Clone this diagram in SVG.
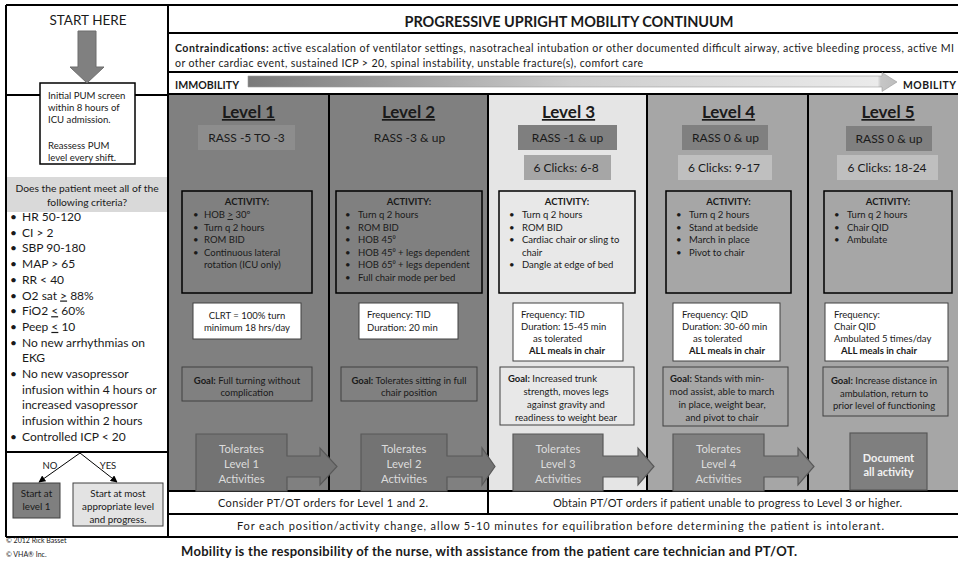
<svg xmlns="http://www.w3.org/2000/svg" width="958" height="561" viewBox="0 0 958 561">
<defs>
<style>
text{font-family:Lato,"Liberation Sans",sans-serif;fill:#1a1a1a}
.b{font-weight:bold}
.m{text-anchor:middle}
.h{font-size:17px;font-weight:bold;text-decoration:underline}
.r{font-size:12px}
.a{font-size:9.5px}
.l{font-size:12px}
.tl{font-size:11.3px;fill:#dcdcdc}
.u{text-decoration:underline}
.ln{stroke:#000;stroke-width:2;fill:none}
.act{stroke:#000;stroke-width:1.5}
.fq{fill:#fff;stroke:#404040;stroke-width:1}
.gl{stroke:#404040;stroke-width:1}
.tol{stroke:#595959;stroke-width:1.2}
.thin{stroke:#000;stroke-width:1;fill:none}
</style>
<linearGradient id="grad" gradientUnits="userSpaceOnUse" x1="248" y1="0" x2="897" y2="0">
<stop offset="0" stop-color="#7a7a7a"/>
<stop offset="0.5" stop-color="#cdcdcd"/>
<stop offset="0.97" stop-color="#ebebeb"/>
<stop offset="0.975" stop-color="#c6c6c6"/>
<stop offset="1" stop-color="#bdbdbd"/>
</linearGradient>
<marker id="ah" viewBox="0 0 10 10" refX="9" refY="5" markerWidth="7" markerHeight="7" orient="auto" markerUnits="userSpaceOnUse">
<path d="M0,0 L10,5 L0,10 Z" fill="#000"/>
</marker>
</defs>
<rect width="958" height="561" fill="#fff"/>

<!-- column backgrounds -->
<g id="backgrounds">
<rect x="168" y="94" width="161" height="397" fill="#808080"/>
<rect x="329" y="94" width="159" height="397" fill="#808080"/>
<rect x="488" y="94" width="159" height="397" fill="#e5e5e5"/>
<rect x="647" y="94" width="161" height="397" fill="#a6a6a6"/>
<rect x="808" y="94" width="152" height="397" fill="#a6a6a6"/>
</g>

<!-- frame lines -->
<g id="frame">
<path class="ln" d="M6,5 H960 M6,5 V537 M168,5 V537 M168,33 H960 M168,72 H960 M168,94 H960 M6,95 H168 M6,452 H168 M329,94 V491 M488,94 V514 M647,94 V491 M808,94 V491 M168,491 H960 M168,514 H960 M6,537 H960"/>
</g>

<!-- left column -->
<g id="start-here">
<text x="88" y="25" class="m" style="font-size:13.5px">START HERE</text>
</g>
<g id="pum-screen">
<rect x="40" y="83" width="95" height="81" fill="#fff" stroke="#000" stroke-width="1.5"/>
<text x="48" y="98.5" style="font-size:9.6px">Initial PUM screen</text>
<text x="48" y="111" style="font-size:9.6px">within 8 hours of</text>
<text x="48" y="123" style="font-size:9.6px">ICU admission.</text>
<text x="48" y="149" style="font-size:9.6px">Reassess PUM</text>
<text x="48" y="161" style="font-size:9.6px">level every shift.</text>
</g>
<g id="criteria">
<rect x="7" y="177" width="160" height="35" fill="#d9d9d9"/>
<text x="87" y="192" class="m" style="font-size:10.3px">Does the patient meet all of the</text>
<text x="87" y="206" class="m" style="font-size:10.3px">following criteria?</text>
<g>
<text x="10" y="221" class="l">•</text><text x="22" y="221" class="l">HR 50-120</text>
<text x="10" y="236.7" class="l">•</text><text x="22" y="236.7" class="l">CI &gt; 2</text>
<text x="10" y="252.4" class="l">•</text><text x="22" y="252.4" class="l">SBP 90-180</text>
<text x="10" y="268.1" class="l">•</text><text x="22" y="268.1" class="l">MAP &gt; 65</text>
<text x="10" y="283.8" class="l">•</text><text x="22" y="283.8" class="l">RR &lt; 40</text>
<text x="10" y="299.5" class="l">•</text><text x="22" y="299.5" class="l">O2 sat <tspan class="u">&gt;</tspan> 88%</text>
<text x="10" y="315.2" class="l">•</text><text x="22" y="315.2" class="l">FiO2 <tspan class="u">&lt;</tspan> 60%</text>
<text x="10" y="330.9" class="l">•</text><text x="22" y="330.9" class="l">Peep <tspan class="u">&lt;</tspan> 10</text>
<text x="10" y="346.6" class="l">•</text><text x="22" y="346.6" class="l">No new arrhythmias on</text>
<text x="22" y="362.3" class="l">EKG</text>
<text x="10" y="378" class="l">•</text><text x="22" y="378" class="l">No new vasopressor</text>
<text x="22" y="393.7" class="l">infusion within 4 hours or</text>
<text x="22" y="409.4" class="l">increased vasopressor</text>
<text x="22" y="425.1" class="l">infusion within 2 hours</text>
<text x="10" y="440.8" class="l">•</text><text x="22" y="440.8" class="l">Controlled ICP &lt; 20</text>
</g>
</g>
<g id="start-level1">
<rect x="13" y="483" width="47" height="35" fill="#7f7f7f" stroke="#404040" stroke-width="1"/>
<text x="36.5" y="497" class="m" style="font-size:9.8px">Start at</text>
<text x="36.5" y="510" class="m" style="font-size:9.8px">level 1</text>
</g>
<g id="start-appropriate">
<rect x="73" y="483" width="90" height="43" fill="#e3e3e3" stroke="#404040" stroke-width="1"/>
<text x="118" y="497" class="m" style="font-size:9.8px">Start at most</text>
<text x="118" y="510" class="m" style="font-size:9.8px">appropriate level</text>
<text x="118" y="523" class="m" style="font-size:9.8px">and progress.</text>
</g>
<g id="credits">
<text x="6" y="543" style="font-size:7px">© 2012 Rick Basset</text>
<text x="6" y="557" style="font-size:7px">© VHA® Inc.</text>
</g>

<!-- header -->
<g id="title">
<text x="569" y="26.5" class="m b" style="font-size:14.5px" textLength="329">PROGRESSIVE UPRIGHT MOBILITY CONTINUUM</text>
</g>
<g id="contraindications">
<text x="175" y="52" style="font-size:10.6px" textLength="779"><tspan class="b">Contraindications:</tspan> active escalation of ventilator settings, nasotracheal intubation or other documented difficult airway, active bleeding process, active MI</text>
<text x="175" y="67" style="font-size:10.6px" textLength="468">or other cardiac event, sustained ICP &gt; 20, spinal instability, unstable fracture(s), comfort care</text>
</g>
<g id="continuum">
<text x="175" y="89" class="b" style="font-size:10.6px" textLength="64">IMMOBILITY</text>
<path d="M248,76 H882 V72.5 L897,82 L882,91.5 V87 H248 Z" fill="url(#grad)" stroke="#9a9a9a" stroke-width="0.6"/>
<text x="903" y="89" class="b" style="font-size:10.4px" textLength="53">MOBILITY</text>
</g>

<!-- Level 1 -->
<g id="level1">
<text x="248.5" y="118" class="m h">Level 1</text>
<rect x="198" y="125" width="97" height="25" fill="#8d8d8d"/>
<text x="246.5" y="142" class="m r">RASS  -5 TO -3</text>
<rect x="182" y="191" width="130" height="102" fill="#808080" class="act"/>
<text x="247" y="205" class="m a b">ACTIVITY:</text>
<text class="a"><tspan x="193" y="218">•</tspan><tspan x="193" y="230.6">•</tspan><tspan x="193" y="243.2">•</tspan><tspan x="193" y="255.8">•</tspan></text>
<text x="204" y="218" class="a">HOB <tspan class="u">&gt;</tspan> 30º</text>
<text x="204" y="230.6" class="a">Turn q 2 hours</text>
<text x="204" y="243.2" class="a">ROM BID</text>
<text x="204" y="255.8" class="a">Continuous lateral</text>
<text x="204" y="268.4" class="a">rotation (ICU only)</text>
<rect x="193" y="303" width="108" height="36" class="fq"/>
<text x="247" y="319" class="m a">CLRT = 100% turn</text>
<text x="247" y="331" class="m a">minimum 18 hrs/day</text>
<rect x="182" y="367" width="130" height="34" fill="#808080" class="gl"/>
<text x="247" y="383.5" class="m a"><tspan class="b">Goal:</tspan> Full turning without</text>
<text x="247" y="395.5" class="m a">complication</text>
<path d="M196,434 H287 V456 H320 V448 L337,466.5 L320,485 V477 H287 V491 H196 Z" fill="#737373" class="tol"/>
<text x="241.5" y="452.5" class="m tl">Tolerates</text>
<text x="241.5" y="467.5" class="m tl">Level 1</text>
<text x="241.5" y="482.5" class="m tl">Activities</text>
</g>

<!-- Level 2 -->
<g id="level2">
<text x="408.5" y="118" class="m h">Level 2</text>
<text x="409.5" y="142" class="m r">RASS -3 &amp; up</text>
<rect x="336" y="191" width="146" height="102" fill="#808080" class="act"/>
<text x="409" y="205" class="m a b">ACTIVITY:</text>
<text class="a"><tspan x="345" y="218">•</tspan><tspan x="345" y="230.6">•</tspan><tspan x="345" y="243.2">•</tspan><tspan x="345" y="255.8">•</tspan><tspan x="345" y="268.4">•</tspan><tspan x="345" y="281">•</tspan></text>
<text x="358" y="218" class="a">Turn q 2 hours</text>
<text x="358" y="230.6" class="a">ROM BID</text>
<text x="358" y="243.2" class="a">HOB 45⁰</text>
<text x="358" y="255.8" class="a">HOB 45⁰ + legs  dependent</text>
<text x="358" y="268.4" class="a">HOB 65⁰ + legs dependent</text>
<text x="358" y="281" class="a">Full chair mode per bed</text>
<rect x="359" y="303" width="99" height="36" class="fq"/>
<text x="367" y="318" class="a">Frequency: TID</text>
<text x="367" y="330.5" class="a">Duration: 20 min</text>
<rect x="341" y="367" width="136" height="34" fill="#808080" class="gl"/>
<text x="409" y="383.5" class="m a"><tspan class="b">Goal:</tspan> Tolerates sitting in full</text>
<text x="409" y="395.5" class="m a">chair position</text>
<path d="M361,434 H447 V456 H482 V448 L495,466.5 L482,485 V477 H447 V491 H361 Z" fill="#737373" class="tol"/>
<text x="404" y="452.5" class="m tl">Tolerates</text>
<text x="404" y="467.5" class="m tl">Level 2</text>
<text x="404" y="482.5" class="m tl">Activities</text>
</g>

<!-- Level 3 -->
<g id="level3">
<text x="568.5" y="118" class="m h">Level 3</text>
<rect x="518" y="125" width="99" height="25" fill="#7f7f7f"/>
<text x="567.5" y="142" class="m r">RASS -1 &amp; up</text>
<rect x="524" y="155" width="87" height="25" fill="#a6a6a6"/>
<text x="566" y="172" class="m r">6 Clicks: 6-8</text>
<rect x="499" y="191" width="136" height="102" fill="#e8e8e8" class="act"/>
<text x="567" y="205" class="m a b">ACTIVITY:</text>
<text class="a"><tspan x="509" y="218">•</tspan><tspan x="509" y="230.6">•</tspan><tspan x="509" y="243.2">•</tspan><tspan x="509" y="268.4">•</tspan></text>
<text x="522" y="218" class="a">Turn q 2 hours</text>
<text x="522" y="230.6" class="a">ROM BID</text>
<text x="522" y="243.2" class="a">Cardiac chair or sling to</text>
<text x="522" y="255.8" class="a">chair</text>
<text x="522" y="268.4" class="a">Dangle at edge of bed</text>
<rect x="513" y="303" width="110" height="58" class="fq"/>
<text x="521" y="318" class="a">Frequency: TID</text>
<text x="521" y="330" class="a">Duration: 15-45 min</text>
<text x="533" y="342" class="a">as tolerated</text>
<text x="529" y="354" class="a b">ALL meals in chair</text>
<rect x="500" y="367" width="134" height="58" fill="#e8e8e8" class="gl"/>
<text x="508" y="382" class="a"><tspan class="b">Goal:</tspan> Increased trunk</text>
<text x="566" y="395" class="m a">strength, moves legs</text>
<text x="566" y="408" class="m a">against gravity and</text>
<text x="566" y="421" class="m a">readiness to weight bear</text>
<path d="M513,434 H603 V456 H638 V448 L654,466.5 L638,485 V477 H603 V491 H513 Z" fill="#7f7f7f" class="tol"/>
<text x="558" y="452.5" class="m tl">Tolerates</text>
<text x="558" y="467.5" class="m tl">Level 3</text>
<text x="558" y="482.5" class="m tl">Activities</text>
</g>

<!-- Level 4 -->
<g id="level4">
<text x="728.5" y="118" class="m h">Level 4</text>
<rect x="682" y="125" width="86" height="25" fill="#808080"/>
<text x="725.5" y="142" class="m r">RASS 0 &amp; up</text>
<rect x="678" y="155" width="94" height="25" fill="#bfbfbf"/>
<text x="724" y="172" class="m r">6 Clicks: 9-17</text>
<rect x="666" y="191" width="125" height="102" fill="#a6a6a6" class="act"/>
<text x="728.5" y="205" class="m a b">ACTIVITY:</text>
<text class="a"><tspan x="676" y="218">•</tspan><tspan x="676" y="230.6">•</tspan><tspan x="676" y="243.2">•</tspan><tspan x="676" y="255.8">•</tspan></text>
<text x="689" y="218" class="a">Turn q 2 hours</text>
<text x="689" y="230.6" class="a">Stand at bedside</text>
<text x="689" y="243.2" class="a">March in place</text>
<text x="689" y="255.8" class="a">Pivot to chair</text>
<rect x="673" y="303" width="107" height="58" class="fq"/>
<text x="682" y="318" class="a">Frequency: QID</text>
<text x="682" y="330" class="a">Duration: 30-60 min</text>
<text x="693" y="342" class="a">as tolerated</text>
<text x="689" y="354" class="a b">ALL meals in chair</text>
<rect x="663" y="367" width="125" height="59" fill="#a6a6a6" class="gl"/>
<text x="670" y="382" class="a"><tspan class="b">Goal:</tspan> Stands with min-</text>
<text x="722" y="395" class="m a">mod assist, able to march</text>
<text x="722" y="408" class="m a">in place, weight bear,</text>
<text x="722" y="421" class="m a">and pivot to chair</text>
<path d="M673,434 H764 V456 H798 V448 L814,466.5 L798,485 V477 H764 V491 H673 Z" fill="#808080" class="tol"/>
<text x="718.5" y="452.5" class="m tl">Tolerates</text>
<text x="718.5" y="467.5" class="m tl">Level 4</text>
<text x="718.5" y="482.5" class="m tl">Activities</text>
</g>

<!-- Level 5 -->
<g id="level5">
<text x="888" y="118" class="m h">Level 5</text>
<rect x="846" y="126" width="86" height="25" fill="#808080"/>
<text x="889" y="142.5" class="m r">RASS 0 &amp; up</text>
<rect x="837" y="155" width="101" height="25" fill="#bfbfbf"/>
<text x="887" y="172" class="m r">6 Clicks: 18-24</text>
<rect x="824" y="191" width="128" height="102" fill="#a6a6a6" class="act"/>
<text x="888" y="205" class="m a b">ACTIVITY:</text>
<text class="a"><tspan x="834" y="218">•</tspan><tspan x="834" y="230.6">•</tspan><tspan x="834" y="243.2">•</tspan></text>
<text x="847" y="218" class="a">Turn q 2 hours</text>
<text x="847" y="230.6" class="a">Chair QID</text>
<text x="847" y="243.2" class="a">Ambulate</text>
<rect x="825" y="303" width="123" height="58" class="fq"/>
<text x="834" y="318" class="a">Frequency:</text>
<text x="834" y="330" class="a">Chair QID</text>
<text x="834" y="342" class="a">Ambulated 5 times/day</text>
<text x="841" y="354" class="a b">ALL meals in chair</text>
<rect x="823" y="367" width="125" height="49" fill="#a6a6a6" class="gl"/>
<text x="884" y="384" class="m a"><tspan class="b">Goal:</tspan> Increase distance in</text>
<text x="884" y="396.5" class="m a">ambulation, return to</text>
<text x="884" y="409" class="m a">prior level of functioning</text>
<rect x="850" y="433" width="77" height="57" fill="#7f7f7f" stroke="#595959" stroke-width="1.2"/>
<text x="888.5" y="462" class="m b" style="font-size:11px;fill:#f2f2f2">Document</text>
<text x="888.5" y="476" class="m b" style="font-size:11px;fill:#f2f2f2">all activity</text>
</g>

<!-- bottom rows -->
<g id="pt-ot">
<text x="323" y="507" class="m" style="font-size:11px" textLength="210">Consider PT/OT orders for Level 1 and 2.</text>
<text x="727.5" y="507" class="m" style="font-size:11px" textLength="349">Obtain PT/OT orders if patient unable to progress to Level 3 or higher.</text>
</g>
<g id="equilibration">
<text x="560.5" y="530" class="m" style="font-size:11px" textLength="647">For each position/activity change, allow 5-10 minutes for equilibration before determining the patient is intolerant.</text>
</g>
<g id="footer">
<text x="181" y="556" class="b" style="font-size:13px" textLength="616">Mobility is the responsibility of the nurse, with assistance from the patient care technician and PT/OT.</text>
</g>

<!-- connectors -->
<g id="connectors">
<polygon points="78,31 96,31 96,67 104,67 87,83 70,67 78,67" fill="#808080" stroke="#6d6d6d" stroke-width="1"/>
<line x1="80" y1="453" x2="39" y2="482" class="thin" marker-end="url(#ah)"/>
<line x1="80" y1="453" x2="117" y2="482" class="thin" marker-end="url(#ah)"/>
<text x="50" y="469" class="m" style="font-size:9.5px">NO</text>
<text x="108" y="469" class="m" style="font-size:9.5px">YES</text>
</g>
</svg>
